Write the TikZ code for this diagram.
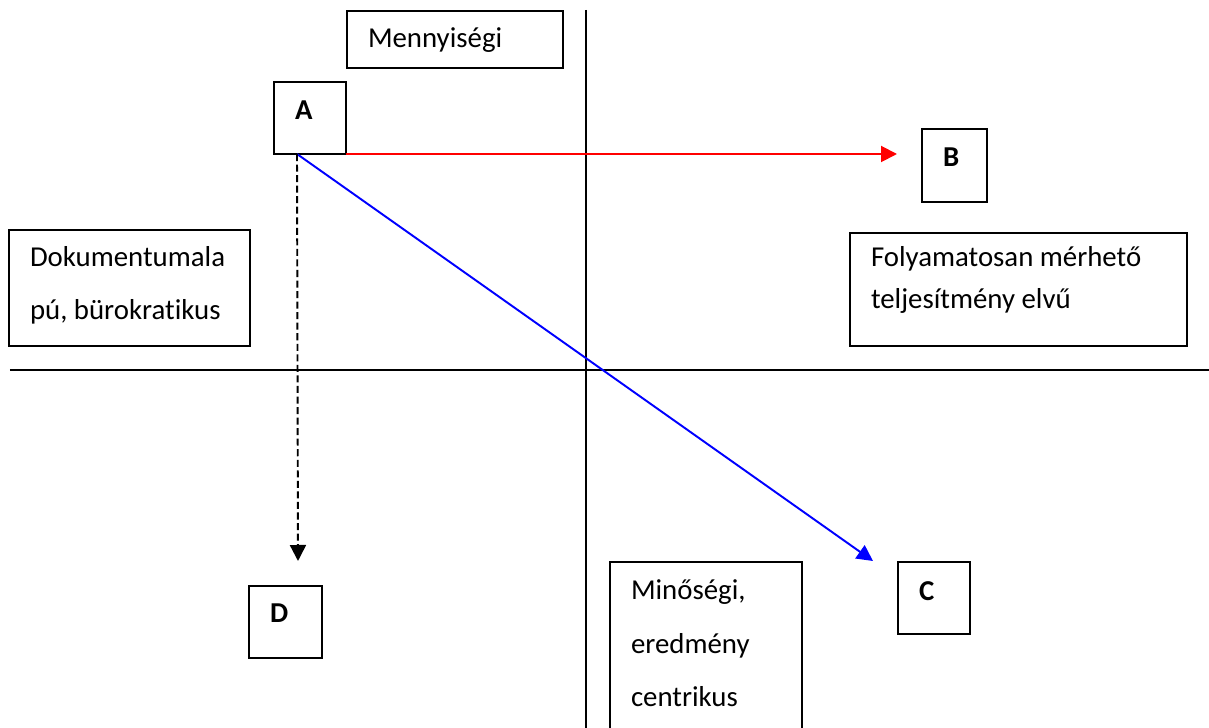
\documentclass[tikz,border=0pt]{standalone}
\usepackage{fontspec}
\setmainfont{Carlito}[Ligatures=NoCommon]
\usetikzlibrary{arrows.meta}

\begin{document}
\begin{tikzpicture}[doboz/.style={draw, line width=1.1pt, anchor=north west, outer sep=0pt, inner xsep=0.42cm, inner ysep=0pt, align=flush left, font=\fontsize{16.4}{29.6}\selectfont},
                    betu/.style={doboz, font=\fontsize{16.4}{20}\selectfont\bfseries, text width=0.6cm},
                    nyil/.style={line width=1.1pt, -{Triangle[length=0.32cm, width=0.32cm]}}]
                    \useasboundingbox (0,0) rectangle (24.18,-14.56);

                    % tengelyek
                    \coordinate (fent) at (11.72,-0.2);
                    \coordinate (lent) at (11.72,-14.56);
                    \coordinate (bal) at (0.2,-7.4);
                    \coordinate (jobb) at (24.18,-7.4);
                    \draw[line width=1.1pt] (fent) -- (lent);
                    \draw[line width=1.1pt] (bal) -- (jobb);

                    \node[doboz, text width=3.48cm, text height=0.74cm, text depth=0.40cm] (menny) at (6.94,-0.22) {Mennyiségi};
                    \node[doboz, text width=3.98cm, text height=0.74cm, text depth=1.58cm] (dok) at (0.18,-4.60) {Dokumentumala\\pú, bürokratikus};
                    \node[doboz, text width=5.90cm, text height=0.68cm, text depth=1.58cm, font=\fontsize{16.4}{23.9}\selectfont] (foly) at (17.00,-4.66) {Folyamatosan mérhető\\teljesítmény elvű};
                    \node[doboz, text width=3.00cm, text height=0.76cm, text depth=3.40cm, font=\fontsize{16.4}{30.4}\selectfont] (min) at (12.20,-11.24) {Minőségi,\\eredmény\\centrikus};

                    \node[betu, text height=0.76cm, text depth=0.68cm] (A) at (5.48,-1.64) {A};
                    \node[betu, text width=0.46cm, text height=0.76cm, text depth=0.70cm] (B) at (18.44,-2.58) {B};
                    \node[betu, text height=0.78cm, text depth=0.66cm] (C) at (17.96,-11.24) {C};
                    \node[betu, text width=0.62cm, text height=0.74cm, text depth=0.70cm] (D) at (4.98,-11.72) {D};

                    % nyilak
                    \coordinate (Aalja) at (5.94,-3.08);
                    \coordinate (Bcel) at (17.94,-3.08);
                    \coordinate (Ccel) at (17.46,-11.22);
                    \coordinate (Dcel) at (5.96,-11.22);
                    \draw[nyil, red] (A.south east) -- (Bcel);
                    \draw[nyil, blue] (Aalja) -- (Ccel);
                    \draw[nyil, dash pattern=on 4pt off 2pt] (Aalja) -- (Dcel);
                \end{tikzpicture}
\end{document}
